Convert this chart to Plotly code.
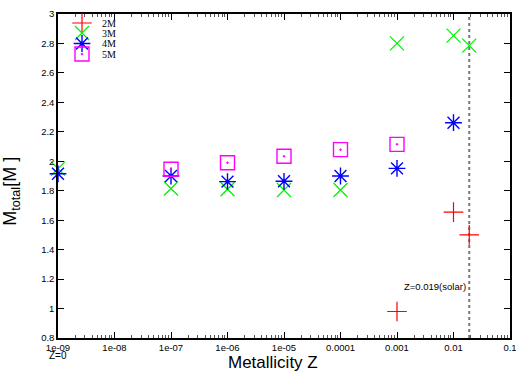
import math
import plotly.graph_objects as go

# ---- data ----
x_2M = [0.001, 0.01, 0.019]
y_2M = [0.98, 1.655, 1.50]

x_3M = [1e-9, 1e-7, 1e-6, 1e-5, 1e-4, 1e-3, 1e-2, 0.019]
y_3M = [1.95, 1.815, 1.81, 1.805, 1.805, 2.80, 2.853, 2.785]

x_4M = [1e-9, 1e-7, 1e-6, 1e-5, 1e-4, 1e-3, 1e-2]
y_4M = [1.915, 1.90, 1.862, 1.864, 1.90, 1.952, 2.262]

x_5M = [1e-7, 1e-6, 1e-5, 1e-4, 1e-3]
y_5M = [1.946, 1.99, 2.034, 2.079, 2.115]

solar_Z = 0.019
y_range = [0.8, 3.0]

x_tickvals = [1e-9, 1e-8, 1e-7, 1e-6, 1e-5, 1e-4, 1e-3, 1e-2, 1e-1]
x_ticktext = ["1e-09", "1e-08", "1e-07", "1e-06", "1e-05", "0.0001", "0.001", "0.01", "0.1"]
y_tickvals = [0.8, 1.0, 1.2, 1.4, 1.6, 1.8, 2.0, 2.2, 2.4, 2.6, 2.8, 3.0]
y_ticktext = ["0.8", "1", "1.2", "1.4", "1.6", "1.8", "2", "2.2", "2.4", "2.6", "2.8", "3"]

W, H = 516, 371

fig = go.Figure()

fig.add_trace(go.Scatter(
    x=[solar_Z, solar_Z], y=y_range, mode="lines",
    line=dict(color="#777777", width=2, dash="3px,3px"),
    showlegend=False, hoverinfo="skip"))

series = [
    ("2M", x_2M, y_2M, "cross-thin-open", "#ff0000", 14, 1.2, "legend", 23),
    ("3M", x_3M, y_3M, "x-thin-open", "#00ee00", 14, 1.2, "legend2", 33),
    ("4M", x_4M, y_4M, "asterisk-open", "#0000ff", 14, 1.4, "legend3", 43.5),
    ("5M", x_5M, y_5M, "square-open-dot", "#ff00ff", 14, 1.4, "legend4", 54),
]
leg_common = dict(xref="container", yref="container", xanchor="left", yanchor="middle",
                  bgcolor="rgba(0,0,0,0)",
                  font=dict(family="Liberation Serif", size=10, color="black"),
                  tracegroupgap=0, borderwidth=0)
leg_left_px = 62
legends = {}
for name, xs, ys, sym, col, sz, lw, lg, ypx in series:
    fig.add_trace(go.Scatter(
        x=xs, y=ys, mode="markers", name=name, legend=lg,
        marker=dict(symbol=sym, size=sz, color=col, line=dict(color=col, width=lw)),
        cliponaxis=False))
    legends[lg] = dict(x=leg_left_px / W, y=1 - ypx / H, **leg_common)
fig.update_layout(**legends)

fig.add_annotation(x=math.log10(solar_Z), y=1.149, xref="x", yref="y",
                   text="Z=0.019(solar)", showarrow=False, xanchor="right", xshift=-1,
                   font=dict(family="Liberation Sans", size=9.5, color="black"))
fig.add_annotation(x=math.log10(x_tickvals[0]), y=-0.0525, xref="x", yref="paper",
                   text="Z=0", showarrow=False, xanchor="center", yanchor="middle",
                   font=dict(family="Liberation Sans", size=10, color="black"))
fig.add_annotation(x=0.475, y=-0.075, xref="paper", yref="paper",
                   text="Metallicity Z", showarrow=False, xanchor="center", yanchor="middle",
                   font=dict(family="Liberation Sans", size=17, color="black"))
fig.add_annotation(x=-0.103, y=0.453, xref="paper", yref="paper",
                   text="M<sub>total</sub>[M ]", showarrow=False, textangle=-90,
                   xanchor="center", yanchor="middle",
                   font=dict(family="Liberation Sans", size=18, color="black"))

axis_common = dict(showline=True, linecolor="black", linewidth=1.5, mirror="allticks",
                   ticks="inside", ticklen=6, tickwidth=1, tickcolor="black",
                   showgrid=False, zeroline=False, automargin=False,
                   ticklabeloverflow="allow",
                   tickfont=dict(family="Liberation Sans", size=9.5, color="black"))

fig.update_xaxes(type="log", range=[-9, -1], tickvals=x_tickvals, ticktext=x_ticktext,
                 minor=dict(ticks="inside", ticklen=3, tickwidth=1, tickcolor="#555555",
                            dtick="D1", showgrid=False),
                 **axis_common)
fig.update_yaxes(range=y_range, tickvals=y_tickvals, ticktext=y_ticktext, **axis_common)

fig.update_layout(width=W, height=H, margin=dict(l=58, r=6, t=14, b=33, autoexpand=False),
                  plot_bgcolor="white", paper_bgcolor="white")

fig.write_html("out.html", config={"displayModeBar": False},
               post_script="document.body.style.margin='0px';document.body.style.overflow='hidden';")
